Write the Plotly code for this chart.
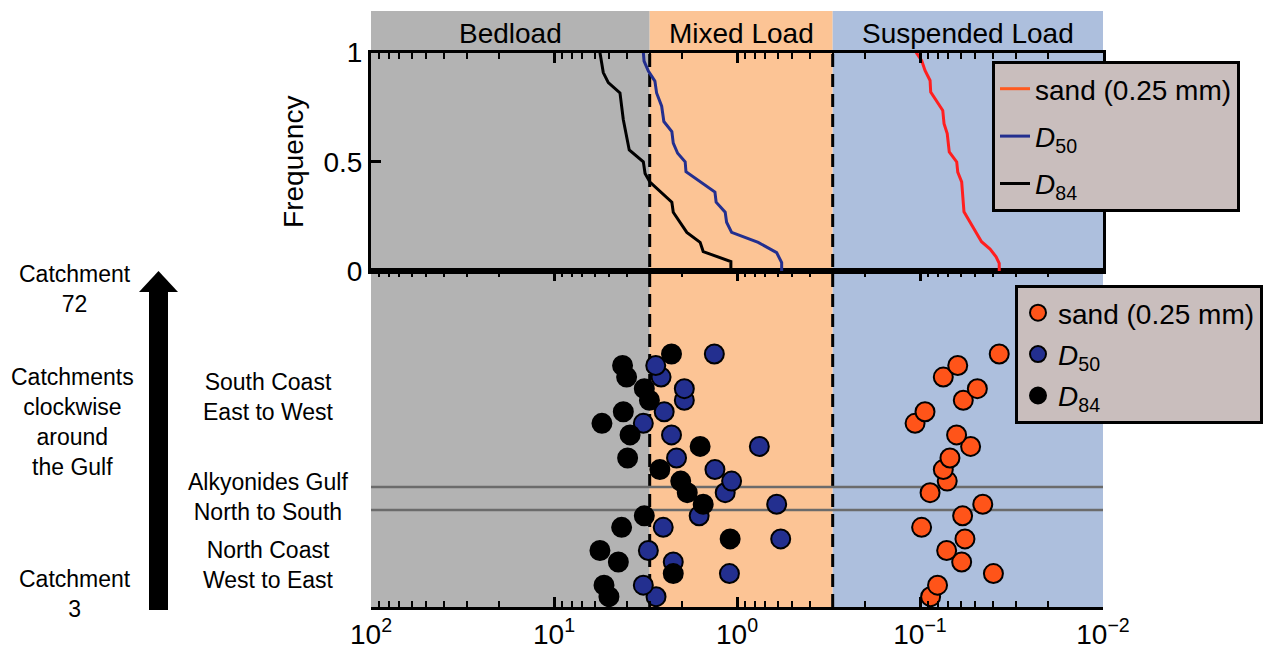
import numpy as np
import plotly.graph_objects as go

# ---------------- DATA ----------------
# Bottom panel: one row per catchment, ordered from Catchment 3 (bottom) to Catchment 72 (top)
catchment_index = list(range(1, 23))
sand_vals = [0.0875, 0.0802, 0.0397, 0.0592, 0.0715, 0.0568, 0.0980, 0.0585, 0.0454, 0.0881, 0.0710,
             0.0746, 0.0686, 0.0529, 0.0631, 0.1064, 0.0939, 0.0580, 0.0486, 0.0746, 0.0622, 0.0369]
d50_vals = [2.77, 3.25, 1.10, 2.23, 3.05, 0.577, 2.53, 1.61, 0.607, 1.16, 1.07,
            1.32, 2.14, 0.755, 2.28, 3.25, 2.50, 1.94, 1.94, 2.60, 2.78, 1.33]
d84_vals = [5.01, 5.33, 2.23, 4.45, 5.61, 1.09, 4.27, 3.21, 1.53, 1.87, 2.03,
            2.64, 3.96, 1.59, 3.84, 5.47, 4.18, 3.01, 3.21, 4.01, 4.22, 2.28]
region_separators = [8.5, 10.5]   # North Coast | Alkyonides Gulf | South Coast

# Top panel: frequency curves
curve_d84_x = [5.61, 5.38, 5.05, 4.36, 4.18, 4.09, 3.88, 3.25, 3.18, 2.99, 2.27, 2.23, 1.88, 1.59, 1.53, 1.08, 1.08]
curve_d84_f = [1.0, 0.908, 0.862, 0.815, 0.692, 0.646, 0.554, 0.500, 0.446, 0.407, 0.315, 0.269, 0.177, 0.131,
               0.089, 0.043, 0.0]
curve_d50_x = [3.25, 3.22, 3.05, 2.81, 2.75, 2.58, 2.51, 2.27, 2.23, 2.11, 1.92, 1.90, 1.32, 1.30, 1.16, 1.14,
               1.07, 0.766, 0.607, 0.570, 0.570]
curve_d50_f = [1.0, 0.961, 0.915, 0.869, 0.815, 0.754, 0.684, 0.638, 0.585, 0.539, 0.500, 0.454, 0.361, 0.315,
               0.269, 0.223, 0.177, 0.131, 0.084, 0.038, 0.0]
curve_sand_x = [0.105, 0.0979, 0.0939, 0.0881, 0.0874, 0.0751, 0.0739, 0.0710, 0.0692, 0.0630, 0.0622, 0.0592,
                0.0575, 0.0533, 0.0461, 0.0414, 0.0384, 0.0369, 0.0369]
curve_sand_f = [1.0, 0.963, 0.918, 0.872, 0.819, 0.735, 0.674, 0.629, 0.545, 0.499, 0.453, 0.408, 0.271, 0.225,
                0.134, 0.100, 0.065, 0.035, 0.0]

# Transport regimes
region_names = ["Bedload", "Mixed Load", "Suspended Load"]
region_bounds = [(100, 3.0), (3.0, 0.3), (0.3, 0.01)]
region_colors = ["#B3B3B3", "#FCC495", "#ADBFDD"]

tick_vals = [100, 10, 1, 0.1, 0.01]
tick_text = ["10<sup>2</sup>", "10<sup>1</sup>", "10<sup>0</sup>", "10<sup>\u22121</sup>", "10<sup>\u22122</sup>"]
minor_vals = [m * 10.0 ** e for e in range(-2, 2) for m in range(2, 10)]

# ---------------- LAYOUT HELPERS ----------------
W, H = 1264, 648
FONT = "Liberation Sans, Arial, Helvetica, sans-serif"


def px(x):
    return x / W


def py(y):
    return 1 - y / H


x_dom = [px(371), px(1103)]
top_dom = [py(271), py(52.5)]
bot_dom = [py(607), py(271)]

C_SAND_LINE = "#FF1F1F"
C_SAND = "#FF5419"
C_D50 = "#232F8F"
C_D84 = "#000000"

fig = go.Figure()

# ---- top panel curves ----
fig.add_trace(go.Scatter(x=curve_sand_x, y=curve_sand_f, mode="lines", xaxis="x2", yaxis="y2",
                         line=dict(color=C_SAND_LINE, width=3), showlegend=False, hoverinfo="skip"))
fig.add_trace(go.Scatter(x=[None], y=[None], mode="lines", xaxis="x2", yaxis="y2",
                         line=dict(color="#FF5A1F", width=3), name="sand (0.25 mm)", legend="legend",
                         legendgroup="a"))
fig.add_trace(go.Scatter(x=curve_d50_x, y=curve_d50_f, mode="lines", xaxis="x2", yaxis="y2",
                         line=dict(color=C_D50, width=3), name="<i>D</i><sub>50</sub>", legend="legend",
                         legendgroup="b"))
fig.add_trace(go.Scatter(x=curve_d84_x, y=curve_d84_f, mode="lines", xaxis="x2", yaxis="y2",
                         line=dict(color=C_D84, width=3), name="<i>D</i><sub>84</sub>", legend="legend",
                         legendgroup="c"))

# ---- bottom panel markers ----
mk = dict(size=19, line=dict(color="black", width=2))
fig.add_trace(go.Scatter(x=sand_vals, y=catchment_index, mode="markers", xaxis="x", yaxis="y",
                         marker=dict(color=C_SAND, **mk), name="sand (0.25 mm)", legend="legend2",
                         legendgroup="d"))
fig.add_trace(go.Scatter(x=d50_vals, y=catchment_index, mode="markers", xaxis="x", yaxis="y",
                         marker=dict(color=C_D50, **mk), name="<i>D</i><sub>50</sub>", legend="legend2",
                         legendgroup="e"))
fig.add_trace(go.Scatter(x=d84_vals, y=catchment_index, mode="markers", xaxis="x", yaxis="y",
                         marker=dict(color=C_D84, **mk), name="<i>D</i><sub>84</sub>", legend="legend2",
                         legendgroup="f"))

shapes = []
# regime shading (below everything)
for (a, b), col in zip(region_bounds, region_colors):
    shapes.append(dict(type="rect", xref="x", yref="paper", x0=a, x1=b, y0=bot_dom[0], y1=py(11),
                       fillcolor=col, line=dict(width=0), layer="below"))
# regime boundaries
for (a, b) in region_bounds[1:]:
    shapes.append(dict(type="line", xref="x", yref="paper", x0=a, x1=a, y0=bot_dom[0], y1=top_dom[1],
                       line=dict(color="black", width=3, dash="13px,7px"), layer="below"))
# region separators in bottom panel
for s in region_separators:
    shapes.append(dict(type="line", xref="paper", yref="y", x0=x_dom[0], x1=x_dom[1], y0=s, y1=s,
                       line=dict(color="#6B6B6B", width=2.5), layer="below"))
# arrow on the left
shapes.append(dict(type="rect", xref="paper", yref="paper", x0=px(149), x1=px(168), y0=py(610), y1=py(290),
                   fillcolor="black", line=dict(width=0)))
shapes.append(dict(type="path", xref="paper", yref="paper",
                   path=f"M {px(139)},{py(292)} L {px(178)},{py(292)} L {px(158.5)},{py(271)} Z",
                   fillcolor="black", line=dict(width=0)))

annotations = []
for name, (a, b) in zip(region_names, region_bounds):
    annotations.append(dict(text=name, xref="x2", yref="paper", x=(np.log10(a) + np.log10(b)) / 2, y=py(33),
                            showarrow=False, font=dict(size=28, color="black", family=FONT),
                            xanchor="center", yanchor="middle"))

side_labels = [
    ("Catchment<br>72", 75, 289),
    ("Catchments<br>clockwise<br>around<br>the Gulf", 72, 422),
    ("Catchment<br>3", 75, 594),
    ("South Coast<br>East to West", 268, 397),
    ("Alkyonides Gulf<br>North to South", 268, 497),
    ("North Coast<br>West to East", 268, 565),
]
for txt, x, y in side_labels:
    annotations.append(dict(text=txt, xref="paper", yref="paper", x=px(x), y=py(y), showarrow=False,
                            font=dict(size=23, color="black", family=FONT), align="center",
                            xanchor="center", yanchor="middle"))

axis_common = dict(type="log", range=[2, -2], domain=x_dom, showline=True, linecolor="black", linewidth=3,
                   ticks="inside", ticklen=10, tickwidth=2.5, tickcolor="black", tickmode="array",
                   tickvals=tick_vals, showgrid=False, zeroline=False,
                   minor=dict(tickmode="array", tickvals=minor_vals, ticks="inside", ticklen=6, tickwidth=2,
                              tickcolor="black", showgrid=False))

legend_common = dict(xanchor="left", yanchor="top", bgcolor="#C9BEBD", bordercolor="black", borderwidth=3,
                     font=dict(size=28, color="black", family=FONT), traceorder="grouped")

fig.update_layout(
    template="none",
    width=W, height=H, autosize=False,
    margin=dict(l=0, r=0, t=0, b=0),
    paper_bgcolor="white", plot_bgcolor="rgba(0,0,0,0)",
    font=dict(family=FONT, color="black", size=28),
    xaxis=dict(axis_common, anchor="y", side="bottom", mirror="ticks", ticktext=tick_text,
               tickfont=dict(size=28, family=FONT, color="black")),
    yaxis=dict(domain=bot_dom, range=[0.109, 29.18], visible=False, anchor="x"),
    xaxis2=dict(axis_common, anchor="y2", side="top", mirror=True, showticklabels=False),
    yaxis2=dict(domain=top_dom, range=[0, 1], anchor="x2", showline=True, linecolor="black", linewidth=3,
                mirror=True, ticks="inside", ticklen=10, tickwidth=2.5, tickcolor="black",
                tickmode="array", tickvals=[0, 0.5, 1], ticktext=["0", "0.5", "1"],
                tickfont=dict(size=28, family=FONT, color="black"), showgrid=False, zeroline=False,
                title=dict(text="Frequency", font=dict(size=28, family=FONT, color="black"), standoff=12)),
    legend=dict(legend_common, x=px(992), y=py(61), tracegroupgap=8),
    legend2=dict(legend_common, x=px(1015), y=py(285), tracegroupgap=2),
    shapes=shapes,
    annotations=annotations,
    showlegend=True,
)

fig.write_html("out.html")
